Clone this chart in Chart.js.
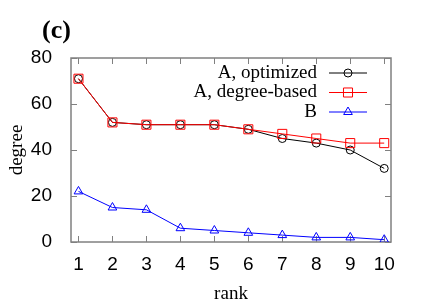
<!DOCTYPE html>
<html>
<head>
<meta charset="utf-8">
<script src="https://cdn.jsdelivr.net/npm/chart.js@4/dist/chart.umd.min.js"></script>
<style>
  html, body { margin: 0; padding: 0; background: #fff; }
  #wrap { width: 436px; height: 305px; }
</style>
</head>
<body>
<div id="wrap"><canvas id="chart"></canvas></div>
<script>
// data
const ranks = [1, 2, 3, 4, 5, 6, 7, 8, 9, 10];
const optimized = [71, 52, 51, 51, 51, 49, 45, 43, 40, 32];
const degreeBased = [71, 52, 51, 51, 51, 49, 47, 45, 43, 43];
const seriesB = [22, 15, 14, 6, 5, 4, 3, 2, 2, 1];
const yTicks = [0, 20, 40, 60, 80];
const seriesNames = ['A, optimized', 'A, degree-based', 'B'];

const SERIF = '"Liberation Serif", "DejaVu Serif", serif';
const SANS = '"Liberation Sans", Arial, sans-serif';
const AXIS_GREY = '#808080';

function toPoints(values) {
  return ranks.map((r, i) => ({ x: r, y: values[i] }));
}

// frame, inward ticks, panel label and legend
const decorations = {
  id: 'decorations',
  beforeDatasetsDraw(chart) {
    const { ctx, chartArea: a, scales } = chart;
    ctx.save();
    ctx.strokeStyle = AXIS_GREY;
    ctx.lineWidth = 1;
    ctx.beginPath();
    ranks.forEach(r => {
      const x = Math.round(scales.x.getPixelForValue(r)) + 0.5;
      ctx.moveTo(x, a.bottom); ctx.lineTo(x, a.bottom - 6);
      ctx.moveTo(x, a.top); ctx.lineTo(x, a.top + 6);
    });
    yTicks.forEach(v => {
      const y = Math.round(scales.y.getPixelForValue(v)) + 0.5;
      ctx.moveTo(a.left, y); ctx.lineTo(a.left + 6, y);
      ctx.moveTo(a.right, y); ctx.lineTo(a.right - 6, y);
    });
    ctx.stroke();
    ctx.lineWidth = 1.5;
    ctx.strokeRect(a.left, a.top, a.right - a.left, a.bottom - a.top);
    ctx.restore();
  },
  afterDraw(chart) {
    const { ctx } = chart;
    ctx.save();
    // panel label
    ctx.fillStyle = '#000';
    ctx.font = 'bold 26px ' + SERIF;
    ctx.textBaseline = 'alphabetic';
    ctx.textAlign = 'left';
    ctx.fillText('(c)', 42, 38);

    // legend
    ctx.font = '19px ' + SERIF;
    ctx.textAlign = 'right';
    ctx.textBaseline = 'middle';
    chart.data.datasets.forEach((ds, i) => {
      const y = 73 + i * 19.5;
      ctx.fillStyle = '#000';
      ctx.fillText(ds.label, 317, y);
      ctx.strokeStyle = ds.borderColor;
      ctx.lineWidth = 1;
      ctx.beginPath();
      ctx.moveTo(329, y); ctx.lineTo(367, y);
      ctx.stroke();
      ctx.fillStyle = 'rgba(0,0,0,0)';
      Chart.helpers.drawPoint(ctx, {
        pointStyle: ds.pointStyle,
        radius: ds.pointRadius,
        borderWidth: 1
      }, 348, y);
    });
    ctx.restore();
  }
};

new Chart(document.getElementById('chart'), {
  type: 'line',
  data: {
    datasets: [
      {
        label: seriesNames[0],
        data: toPoints(optimized),
        borderColor: '#000000',
        pointStyle: 'circle',
        pointRadius: 4,
        order: 1
      },
      {
        label: seriesNames[1],
        data: toPoints(degreeBased),
        borderColor: '#ff0000',
        pointStyle: 'rect',
        pointRadius: 6.4,
        order: 0
      },
      {
        label: seriesNames[2],
        data: toPoints(seriesB),
        borderColor: '#0000ff',
        pointStyle: 'triangle',
        pointRadius: 5,
        order: 2
      }
    ]
  },
  options: {
    responsive: true,
    maintainAspectRatio: false,
    animation: false,
    layout: { padding: { top: 58, right: 45, left: 0, bottom: 0 } },
    datasets: {
      line: {
        borderWidth: 1,
        backgroundColor: 'rgba(0,0,0,0)',
        pointBackgroundColor: 'rgba(0,0,0,0)',
        pointBorderWidth: 1,
        tension: 0
      }
    },
    plugins: {
      legend: { display: false },
      tooltip: { enabled: false }
    },
    scales: {
      x: {
        type: 'linear',
        min: 0.78,
        max: 10.2,
        afterBuildTicks: scale => { scale.ticks = ranks.map(v => ({ value: v })); },
        afterFit: scale => { scale.height = 63; },
        grid: { display: false },
        border: { display: false },
        ticks: {
          color: '#000',
          font: { family: SANS, size: 19 },
          padding: 3,
          maxRotation: 0,
          autoSkip: false
        },
        title: {
          display: true,
          text: 'rank',
          color: '#000',
          font: { family: SERIF, size: 19, lineHeight: 1 },
          padding: { top: 0, bottom: 1 }
        }
      },
      y: {
        min: 0,
        max: 80,
        afterBuildTicks: scale => { scale.ticks = yTicks.map(v => ({ value: v })); },
        afterFit: scale => { scale.width = 71; },
        grid: { display: false },
        border: { display: false },
        ticks: {
          color: '#000',
          font: { family: SANS, size: 19 },
          padding: 11
        },
        title: {
          display: true,
          text: 'degree',
          color: '#000',
          font: { family: SERIF, size: 19, lineHeight: 1 },
          padding: { top: 8, bottom: 0 }
        }
      }
    }
  },
  plugins: [decorations]
});
</script>
</body>
</html>
